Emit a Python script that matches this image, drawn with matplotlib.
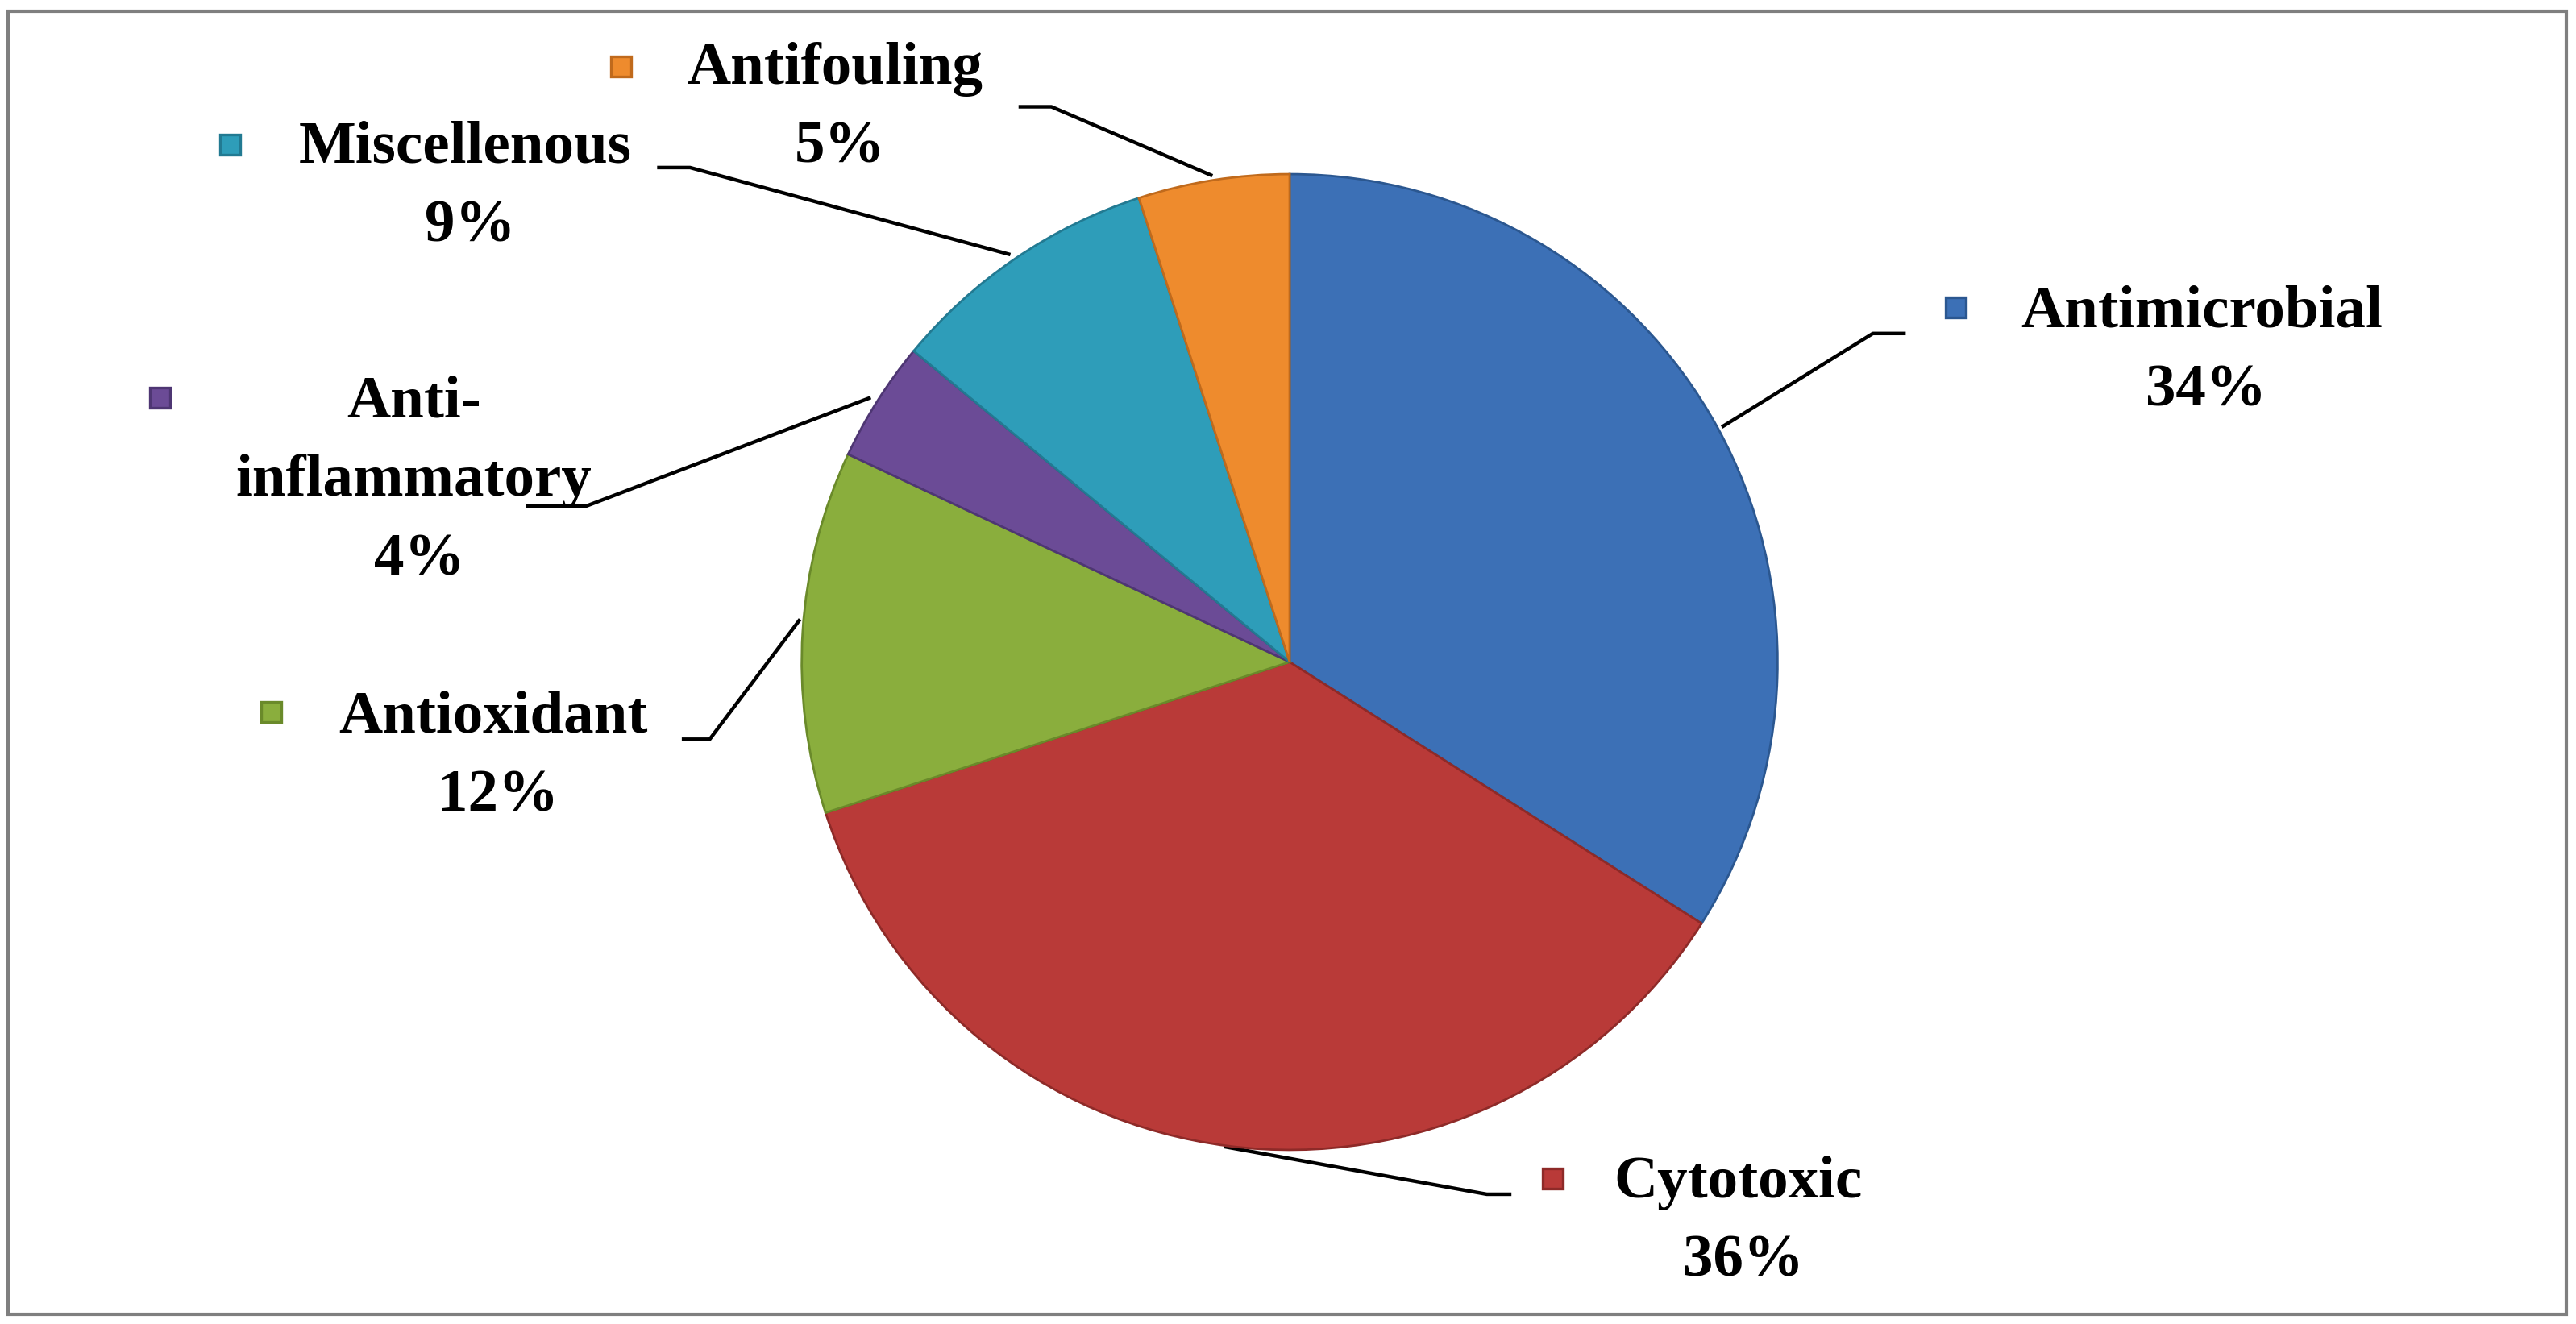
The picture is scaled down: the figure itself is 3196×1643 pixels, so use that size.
import matplotlib
matplotlib.use("Agg")
import matplotlib.pyplot as plt
from matplotlib.patches import Rectangle

# data
categories = ["Antimicrobial", "Cytotoxic", "Antioxidant", "Anti-\ninflammatory", "Miscellenous", "Antifouling"]
shares = [34, 36, 12, 4, 9, 5]
colors = ["#3C70B6", "#B93A38", "#8AAE3D", "#6B4B96", "#2E9DB9", "#EE8B2D"]
edges = ["#2B5790", "#8E2A28", "#6A8A2A", "#4E3673", "#227A92", "#C06A1C"]

W, H = 1568, 806  # layout units (reference pixels)
fig = plt.figure(figsize=(15.98, 8.215), dpi=200)
ax = fig.add_axes([0, 0, 1, 1])
ax.set_xlim(0, W)
ax.set_ylim(0, H)
ax.axis("off")

cx, cy, r = 785, H - 403, 297
# pie axes placed over the centre in figure coordinates
pax = fig.add_axes([(cx - r) / W, (cy - r) / H, 2 * r / W, 2 * r / H])
wedges, _ = pax.pie(shares, colors=colors, startangle=90, counterclock=False,
                    wedgeprops=dict(edgecolor="white", linewidth=1.2))
for w, ec in zip(wedges, edges):
    w.set_edgecolor(ec)
    w.set_linewidth(1.0)
pax.set_aspect("auto")
pax.set_xlim(-1, 1)
pax.set_ylim(-1, 1)

# label layout (reference pixel coords, y from top)
text_pos = [(1340, 190), (1058, 720), (300, 437), (252, 245), (283, 90), (508, 42)]
marker_pos = [(1190, 187), (945, 717), (165, 433), (97, 242), (140, 88), (378, 40)]
leaders = [
    [(1160, 203), (1140, 203), (1048, 260)],
    [(920, 727), (905, 727), (745, 698)],
    [(415, 450), (432, 450), (487, 377)],
    [(320, 308), (357, 308), (530, 242)],
    [(400, 102), (420, 102), (615, 155)],
    [(620, 65), (640, 65), (738, 107)],
]

font = dict(family="Liberation Serif", fontweight="bold", fontsize=27)
for cat, val, (tx, ty), (mx, my), col, ec, line in zip(
        categories, shares, text_pos, marker_pos, colors, edges, leaders):
    lines = cat.split("\n") + [f"{val}%"]
    for i, s in enumerate(lines):
        ax.text(tx + (3 if i == len(lines) - 1 else 0), H - ty - 48 * i, s,
                ha="center", va="center", **font)
    ax.plot(mx, H - my, marker="s", markersize=9, color=col, markeredgecolor=ec, markeredgewidth=1.2)
    xs = [p[0] for p in line]
    ys = [H - p[1] for p in line]
    ax.plot(xs, ys, color="black", linewidth=1.6, solid_capstyle="butt")

ax.add_patch(Rectangle((5, 6), W - 11, H - 13, fill=False, edgecolor="#7F7F7F", linewidth=1.5))

fig.savefig("out.png", dpi=200)
